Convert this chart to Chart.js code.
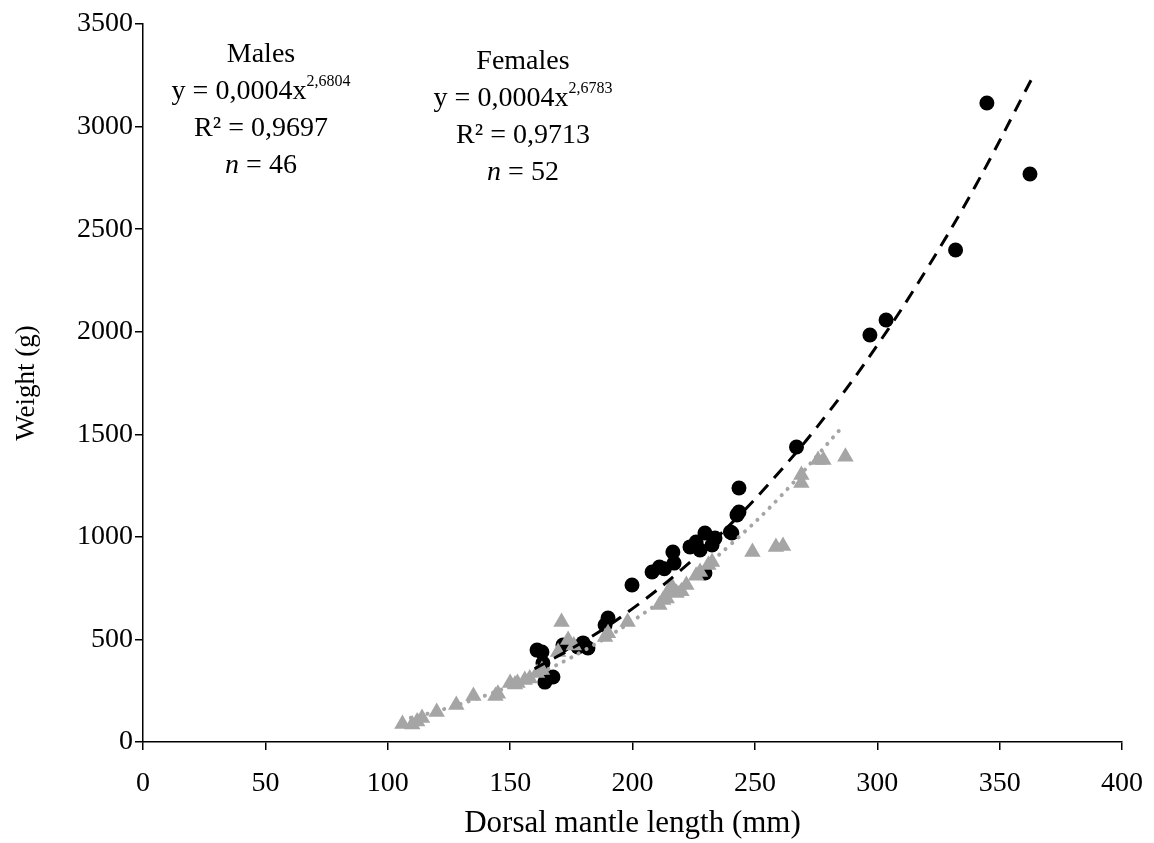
<!DOCTYPE html>
<html>
<head>
<meta charset="utf-8">
<script src="https://cdn.jsdelivr.net/npm/chart.js@4.4.1/dist/chart.umd.min.js"></script>
<style>
  body { margin: 0; background: #fff; }
  #wrap { width: 1154px; height: 843px; }
</style>
</head>
<body>
<div id="wrap"><canvas id="lw" width="1154" height="843"></canvas></div>
<script>
// black circles: DML (mm), weight (g)
const circleX = [161, 163, 163.4, 164.2, 167.5, 171.6, 177.7, 179.8, 181.8, 188.8, 190, 199.8,
  208, 211, 213, 217, 216.5, 223.5, 226, 227.6, 229.6, 229.6, 232.5, 233.7, 240, 240.6,
  242.7, 243.5, 243.5, 267, 297, 303.6, 332, 344.8, 362.4];
const circleY = [448, 439, 385, 292, 317, 473, 463, 483, 458, 570, 604, 765,
  829, 853, 845, 872, 926, 951, 975, 936, 1019, 824, 960, 994, 1024, 1019,
  1107, 1121, 1238, 1438, 1984, 2057, 2398, 3115, 2769];

// grey triangles
const triX = [106, 110, 112, 114, 120, 128, 135, 144, 145, 150, 152, 153, 156, 158, 161, 163,
  169.6, 171, 173.7, 176, 188.8, 190, 198, 211, 212.5, 214, 215, 216, 218, 220, 222, 226,
  227.6, 231, 232.5, 249, 258.6, 261.5, 269, 269, 275.8, 278, 287];
const triY = [88, 85, 100, 117, 146, 180, 224, 224, 235, 288, 280, 288, 302, 310, 336, 351,
  439, 585, 497, 470, 512, 530, 585, 668, 692, 700, 741, 760, 726, 735, 765, 810,
  829, 863, 877, 926, 950, 955, 1262, 1301, 1375, 1375, 1390];

// trend lines
const dashX = [160, 180, 200, 220, 240, 260, 280, 300, 320, 340, 363];
const dashY = [357, 490, 650, 840, 1061, 1316, 1606, 1934, 2301, 2708, 3230];
const dotX = [106, 120, 140, 160, 180, 200, 220, 240, 260, 285];
const dotY = [108, 150, 227, 324, 445, 590, 762, 962, 1191, 1526];

const xTicks = [0, 50, 100, 150, 200, 250, 300, 350, 400];
const yTicks = [0, 500, 1000, 1500, 2000, 2500, 3000, 3500];

const notes = [
  { cx: 261, top: 55, lines: [
    [['Males', '']],
    [['y = 0,0004x', ''], ['2,6804', 'sup']],
    [['R² = 0,9697', '']],
    [['n', 'it'], [' = 46', '']]
  ]},
  { cx: 523, top: 62, lines: [
    [['Females', '']],
    [['y = 0,0004x', ''], ['2,6783', 'sup']],
    [['R² = 0,9713', '']],
    [['n', 'it'], [' = 52', '']]
  ]}
];

const pts = (xs, ys) => xs.map((x, i) => ({ x: x, y: ys[i] }));
const serif = '"Liberation Serif", "Times New Roman", serif';

const notePlugin = {
  id: 'notes',
  afterDraw(chart) {
    const ctx = chart.ctx;
    ctx.save();
    ctx.fillStyle = '#000';
    ctx.textBaseline = 'middle';
    ctx.textAlign = 'left';
    const fontOf = k => k === 'sup' ? '16px ' + serif : (k === 'it' ? 'italic 28px ' + serif : '28px ' + serif);
    notes.forEach(n => {
      n.lines.forEach((segs, li) => {
        let w = 0;
        segs.forEach(s => { ctx.font = fontOf(s[1]); w += ctx.measureText(s[0]).width; });
        let x = n.cx - w / 2;
        const y = n.top + li * 37;
        segs.forEach(s => {
          ctx.font = fontOf(s[1]);
          ctx.fillText(s[0], x, s[1] === 'sup' ? y - 10 : y);
          x += ctx.measureText(s[0]).width;
        });
      });
    });
    ctx.restore();
  }
};

new Chart(document.getElementById('lw'), {
  type: 'scatter',
  data: {
    datasets: [
      { data: pts(dashX, dashY), showLine: true, borderColor: '#000', borderWidth: 3,
        borderDash: [13, 9], pointRadius: 0, fill: false, tension: 0.4, order: 0 },
      { data: pts(dotX, dotY), showLine: true, borderColor: '#A5A5A5', borderWidth: 4,
        borderDash: [0.1, 8.5], borderCapStyle: 'round', pointRadius: 0, fill: false, tension: 0.4, order: 1 },
      { data: pts(circleX, circleY), pointStyle: 'circle', pointRadius: 7.5,
        backgroundColor: '#000', borderColor: '#000', borderWidth: 0, order: 3 },
      { data: pts(triX, triY), pointStyle: 'triangle', pointRadius: 9.5,
        backgroundColor: '#A5A5A5', borderColor: '#A5A5A5', borderWidth: 0, order: 2 }
    ]
  },
  options: {
    responsive: false,
    animation: false,
    layout: { padding: { top: 24, right: 32, left: 0, bottom: 0 } },
    plugins: { legend: { display: false }, tooltip: { enabled: false } },
    scales: {
      x: {
        type: 'linear', min: 0, max: 400,
        afterBuildTicks: s => { s.ticks = xTicks.map(v => ({ value: v })); },
        afterFit: s => { s.height = 101; s.paddingLeft = 0; s.paddingRight = 0; },
        border: { color: '#000', width: 1.5 },
        grid: { display: true, drawOnChartArea: false, drawTicks: true, tickLength: 8, color: '#000', lineWidth: 1.5 },
        ticks: { color: '#000', font: { family: serif, size: 28 }, padding: 17, maxRotation: 0,
          callback: v => String(v) },
        title: { display: true, text: 'Dorsal mantle length (mm)', color: '#000',
          font: { family: serif, size: 31 }, padding: { top: 4, bottom: 1 } }
      },
      y: {
        type: 'linear', min: 0, max: 3500,
        afterBuildTicks: s => { s.ticks = yTicks.map(v => ({ value: v })); },
        afterFit: s => { s.width = 143; },
        border: { color: '#000', width: 1.5 },
        grid: { display: true, drawOnChartArea: false, drawTicks: true, tickLength: 8, color: '#000', lineWidth: 1.5 },
        ticks: { color: '#000', font: { family: serif, size: 28 }, padding: 2,
          callback: v => String(v) },
        title: { display: true, text: 'Weight (g)', color: '#000',
          font: { family: serif, size: 27 }, padding: { top: 11, bottom: 0 } }
      }
    }
  },
  plugins: [notePlugin]
});
</script>
</body>
</html>
